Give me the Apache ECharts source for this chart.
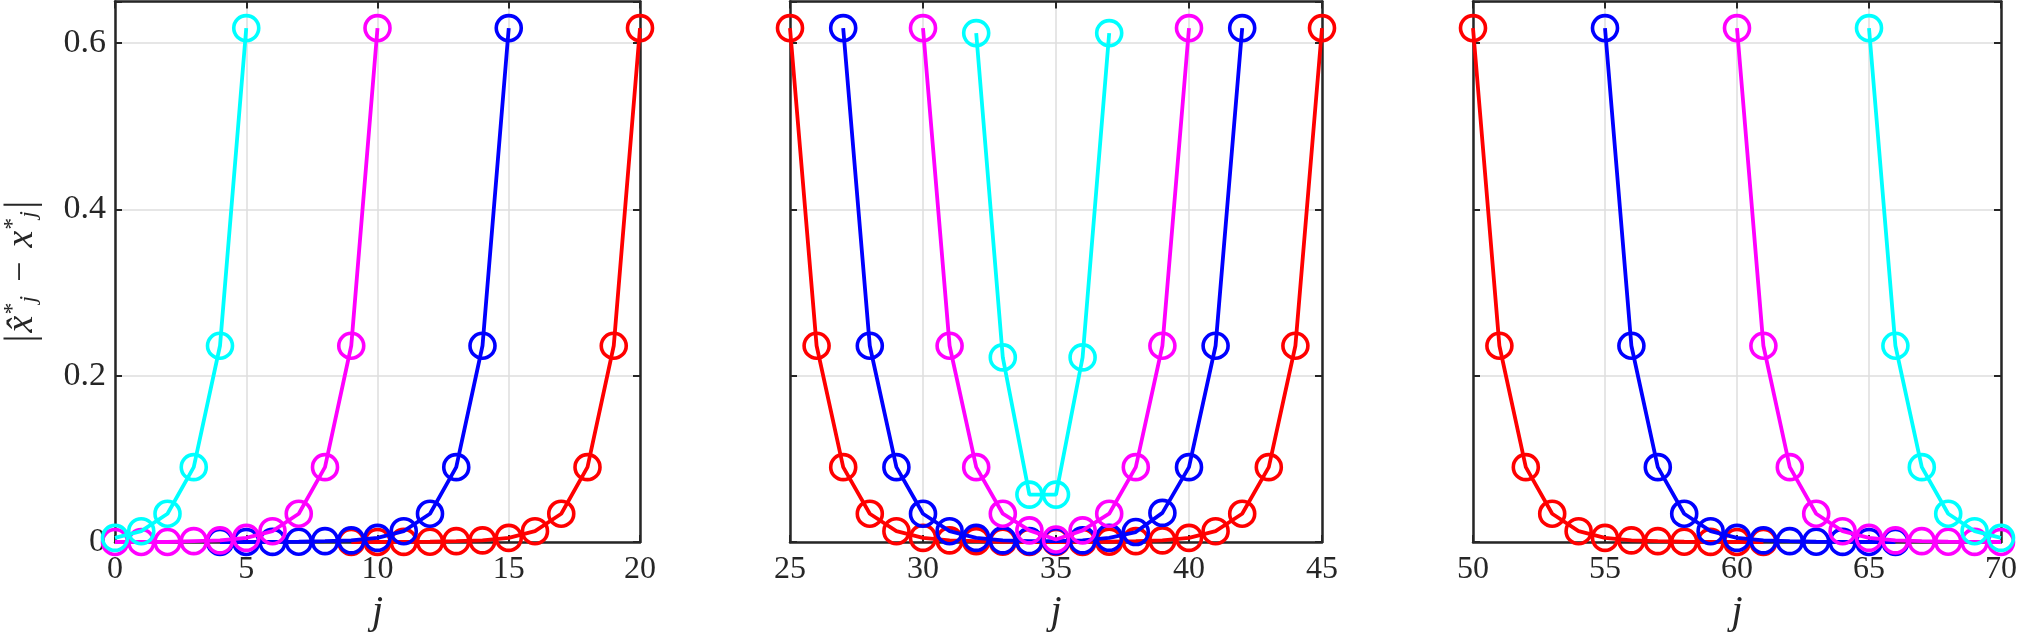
<!DOCTYPE html>
<html>
<head>
<meta charset="utf-8">
<script src="https://cdn.jsdelivr.net/npm/echarts@6/dist/echarts.min.js"></script>
<style>
html,body{margin:0;padding:0;background:#fff;}
#c{width:2020px;height:638px;}
</style>
</head>
<body>
<div id="c"></div>
<script>
// ---- data ----
const xTicks = [0, 5, 10, 15, 20, 25, 30, 35, 40, 45, 50, 55, 60, 65, 70];
const yTickLabels = ['0', '0.2', '0.4', '0.6'];
const panelRanges = [[0, 20], [25, 45], [50, 70]];

// panel 1
const jCyanA = [0, 1, 2, 3, 4, 5];
const cyanA = [0.005, 0.013, 0.034, 0.090, 0.236, 0.618];
const jMagentaA = [0, 1, 2, 3, 4, 5, 6, 7, 8, 9, 10];
const magentaA = [0, 0, 0, 0.001, 0.002, 0.005, 0.013, 0.034, 0.090, 0.236, 0.618];
const jBlueA = [4, 5, 6, 7, 8, 9, 10, 11, 12, 13, 14, 15];
const blueA = [0, 0, 0.0001, 0.0003, 0.001, 0.002, 0.005, 0.013, 0.034, 0.090, 0.236, 0.618];
const jRedA = [9, 10, 11, 12, 13, 14, 15, 16, 17, 18, 19, 20];
const redA = [0, 0, 0.0001, 0.0003, 0.001, 0.002, 0.005, 0.013, 0.034, 0.090, 0.236, 0.618];

// panel 2
const jRedB = [25, 26, 27, 28, 29, 30, 31, 32, 33, 34, 35, 36, 37, 38, 39, 40, 41, 42, 43, 44, 45];
const redB = [0.618, 0.236, 0.090, 0.034, 0.013, 0.005, 0.002, 0.001, 0.0003, 0.0001, 0, 0.0001, 0.0003, 0.001, 0.002, 0.005, 0.013, 0.034, 0.090, 0.236, 0.618];
const jBlueB = [27, 28, 29, 30, 31, 32, 33, 34, 35, 36, 37, 38, 39, 40, 41, 42];
const blueB = [0.618, 0.236, 0.090, 0.034, 0.013, 0.005, 0.002, 0.001, 0.001, 0.002, 0.005, 0.012, 0.035, 0.090, 0.236, 0.618];
const jMagentaB = [30, 31, 32, 33, 34, 35, 36, 37, 38, 39, 40];
const magentaB = [0.618, 0.236, 0.090, 0.034, 0.014, 0.003, 0.014, 0.034, 0.090, 0.236, 0.618];
const jCyanB = [32, 33, 34, 35, 36, 37];
const cyanB = [0.612, 0.222, 0.057, 0.057, 0.222, 0.612];

// panel 3
const jRedC = [50, 51, 52, 53, 54, 55, 56, 57, 58, 59, 60, 61];
const redC = [0.618, 0.236, 0.090, 0.034, 0.013, 0.005, 0.002, 0.001, 0.0003, 0.0001, 0, 0];
const jBlueC = [55, 56, 57, 58, 59, 60, 61, 62, 63, 64, 65, 66];
const blueC = [0.618, 0.236, 0.090, 0.034, 0.013, 0.005, 0.002, 0.001, 0.0003, 0.0001, 0, 0];
const jMagentaC = [60, 61, 62, 63, 64, 65, 66, 67, 68, 69, 70];
const magentaC = [0.618, 0.236, 0.090, 0.034, 0.013, 0.005, 0.002, 0.001, 0.0003, 0.0001, 0];
const jCyanC = [65, 66, 67, 68, 69, 70];
const cyanC = [0.618, 0.236, 0.090, 0.034, 0.013, 0.005];

// ---- styling ----
const AX = '#262626';
const GRIDC = '#dedede';
const RED = '#ff0000', BLUE = '#0000ff', MAG = '#ff00ff', CYAN = '#00ffff';
const FONT = "'Liberation Serif', 'DejaVu Serif', serif";
const lefts = [108, 790, 1473];
const PW = 532;
const TOP = 1.5, PH = 540.5;

const chart = echarts.init(document.getElementById('c'), null, {renderer: 'canvas'});

const grids = [], xAxes = [], yAxes = [], series = [];

panelRanges.forEach((r, p) => {
  grids.push({left: lefts[p], top: TOP, width: PW, height: PH, show: false, containLabel: false});
  const tickCommon = {show: true, inside: true, length: 7, lineStyle: {color: AX, width: 2}};
  const lineCommon = {show: true, onZero: false, lineStyle: {color: AX, width: 2.5}};
  // bottom x
  xAxes.push({type: 'value', gridIndex: p, position: 'bottom', min: r[0], max: r[1], interval: 5,
    axisLine: lineCommon, axisTick: tickCommon,
    axisLabel: {show: true, margin: 12, color: AX, fontFamily: FONT, fontSize: 32,
      formatter: v => xTicks.indexOf(v) >= 0 ? String(v) : ''},
    splitLine: {show: true, lineStyle: {color: GRIDC, width: 1.5}},
    name: 'j', nameLocation: 'middle', nameGap: 50,
    nameTextStyle: {fontFamily: FONT, fontStyle: 'italic', fontSize: 40, color: AX}});
  // top x
  xAxes.push({type: 'value', gridIndex: p, position: 'top', min: r[0], max: r[1], interval: 5,
    axisLine: lineCommon, axisTick: tickCommon, axisLabel: {show: false}, splitLine: {show: false}});
  // left y
  const ly = {type: 'value', gridIndex: p, position: 'left', min: 0, max: 0.65, interval: 0.2,
    axisLine: lineCommon, axisTick: tickCommon,
    axisLabel: {show: p === 0, margin: 9, color: AX, fontFamily: FONT, fontSize: 34,
      formatter: v => { const s = String(+v.toFixed(2)); return yTickLabels.indexOf(s) >= 0 ? s : ''; }},
    splitLine: {show: true, lineStyle: {color: GRIDC, width: 1.5}}};
  if (p === 0) {
    ly.name = '{bar||}{x|x\u0302}{sup|*}{sub|j}{m|\u2212}{x|x}{sup|*}{sub|j}{bar||}';
    ly.nameLocation = 'middle';
    ly.nameGap = 70;
    ly.nameRotate = 90;
    ly.nameTextStyle = {color: AX, fontFamily: FONT, rich: {
      bar: {fontFamily: FONT, fontSize: 42, lineHeight: 46, color: AX, verticalAlign: 'middle'},
      x: {fontFamily: FONT, fontStyle: 'italic', fontSize: 38, color: AX, verticalAlign: 'middle', padding: [0, 0, 0, 2]},
      sup: {fontFamily: FONT, fontSize: 24, color: AX, verticalAlign: 'top', padding: [2, 0, 0, 1]},
      sub: {fontFamily: FONT, fontStyle: 'italic', fontSize: 24, color: AX, verticalAlign: 'bottom', padding: [0, 2, 4, 0]},
      m: {fontFamily: FONT, fontSize: 36, color: AX, verticalAlign: 'middle', padding: [0, 12, 0, 12]}
    }};
  }
  yAxes.push(ly);
  // right y
  yAxes.push({type: 'value', gridIndex: p, position: 'right', min: 0, max: 0.65, interval: 0.2,
    axisLine: lineCommon, axisTick: tickCommon, axisLabel: {show: false}, splitLine: {show: false}});
});

function mk(p, js, vals, color, z) {
  return {
    type: 'line', xAxisIndex: 2 * p, yAxisIndex: 2 * p,
    data: js.map((j, i) => [j, vals[i]]),
    clip: false, z: z, silent: true, animation: false,
    symbol: 'circle', symbolSize: 25,
    lineStyle: {color: color, width: 3.8},
    itemStyle: {color: 'rgba(0,0,0,0)', borderColor: color, borderWidth: 3.6}
  };
}

series.push(
  mk(0, jRedA, redA, RED, 2), mk(0, jBlueA, blueA, BLUE, 3), mk(0, jMagentaA, magentaA, MAG, 4), mk(0, jCyanA, cyanA, CYAN, 5),
  mk(1, jRedB, redB, RED, 2), mk(1, jBlueB, blueB, BLUE, 3), mk(1, jMagentaB, magentaB, MAG, 4), mk(1, jCyanB, cyanB, CYAN, 5),
  mk(2, jRedC, redC, RED, 2), mk(2, jBlueC, blueC, BLUE, 3), mk(2, jMagentaC, magentaC, MAG, 4), mk(2, jCyanC, cyanC, CYAN, 5)
);

chart.setOption({
  backgroundColor: '#ffffff',
  animation: false,
  grid: grids, xAxis: xAxes, yAxis: yAxes, series: series
});
</script>
</body>
</html>
